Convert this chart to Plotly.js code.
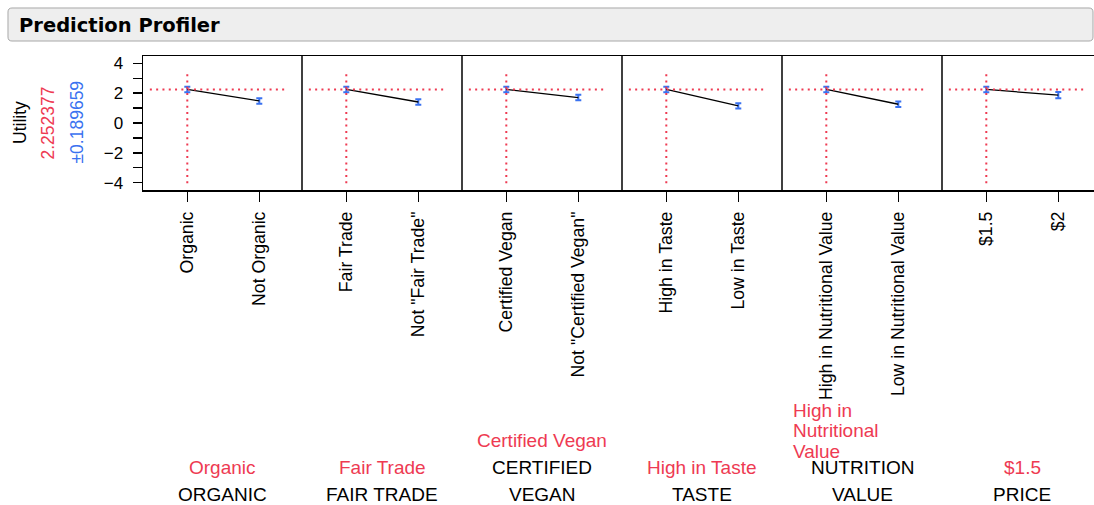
<!DOCTYPE html>
<html>
<head>
<meta charset="utf-8">
<script src="https://cdn.plot.ly/plotly-3.0.1.min.js"></script>
<style>html,body{margin:0;padding:0;background:#fff;}#chart{width:1094px;height:505px;}</style>
</head>
<body>
<div id="chart"></div>
<script>
// ---- data ----
const factorNames = ['ORGANIC', 'FAIR TRADE', 'CERTIFIED<br>VEGAN', 'TASTE', 'NUTRITION<br>VALUE', 'PRICE'];
const levelsA = ['Organic', 'Fair Trade', 'Certified Vegan', 'High in Taste', 'High in Nutritional Value', '$1.5'];
const levelsB = ['Not Organic', 'Not "Fair Trade"', 'Not "Certified Vegan"', 'Low in Taste', 'Low in Nutritional Value', '$2'];
const currentLabels = ['Organic', 'Fair Trade', 'Certified Vegan', 'High in Taste', 'High in<br>Nutritional<br>Value', '$1.5'];
const predictedUtility = 2.252377;
const predictedCI = 0.189659;
const levelBUtility = [1.48, 1.41, 1.71, 1.15, 1.26, 1.87];
const levelBCI = [0.18, 0.19, 0.19, 0.17, 0.18, 0.21];
const yTickVals = [-4, -2, 0, 2, 4];

// ---- style / layout helpers ----
const FONT = 'Liberation Sans, Arial, sans-serif';
const RED = '#ee3a52';
const BLUE = '#3a72f0';
const W = 1094, H = 505;
const ML = 143, MT = 56, MB = 315;
const PW = W - ML;
const PH = H - MT - MB;
const xp = px => (px - ML) / PW;
const yp = py => (MT + PH - py) / PH;
const panelEdges = [143, 302, 462, 622, 782, 942, 1102];
const pxPerUnit = 72;
const firstOffset = 44.3;

const traces = [];
const layout = {
  width: W, height: H,
  margin: {l: ML, r: 0, t: MT, b: MB, pad: 0},
  paper_bgcolor: '#ffffff', plot_bgcolor: '#ffffff',
  showlegend: false,
  font: {family: FONT, color: '#000', size: 17},
  yaxis: {
    range: [-4.5, 4.5], tickvals: yTickVals, ticks: 'outside', ticklen: 9, tickwidth: 1.5,
    tickcolor: '#000', showline: true, linecolor: '#000', linewidth: 1.5,
    showgrid: false, zeroline: false, anchor: 'x', fixedrange: true,
    tickfont: {family: FONT, size: 17, color: '#000'},
    minor: {dtick: 1, tick0: 0, ticks: 'outside', ticklen: 9, tickwidth: 1.5, tickcolor: '#000', showgrid: false},
    ticklabelstandoff: 6
  },
  shapes: [], annotations: []
};

const nP = factorNames.length;
for (let i = 0; i < nP; i++) {
  const axName = i === 0 ? 'x' : 'x' + (i + 1);
  const layKey = i === 0 ? 'xaxis' : 'xaxis' + (i + 1);
  const left = panelEdges[i];
  const right = Math.min(panelEdges[i + 1], W);
  const r0 = -firstOffset / pxPerUnit;
  const r1 = r0 + (right - left) / pxPerUnit;
  layout[layKey] = {
    domain: [xp(left), xp(right)], anchor: 'y', range: [r0, r1],
    tickvals: [0, 1], ticktext: [levelsA[i], levelsB[i]], tickangle: -90,
    ticks: 'outside', ticklen: 10, tickwidth: 1.5, tickcolor: '#000',
    showline: true, mirror: true, linecolor: '#000', linewidth: 1.5,
    showgrid: false, zeroline: false, fixedrange: true,
    tickfont: {family: FONT, size: 17.7, color: '#000'},
    ticklabelstandoff: 3
  };
  traces.push({
    type: 'scatter', mode: 'lines', xaxis: axName, yaxis: 'y',
    x: [0, 1], y: [predictedUtility, levelBUtility[i]],
    line: {color: '#000', width: 1.3},
    error_y: {type: 'data', array: [predictedCI, levelBCI[i]], visible: true, color: BLUE, thickness: 2, width: 3},
    hoverinfo: 'skip'
  });
  layout.shapes.push({type: 'line', xref: axName, yref: 'y', x0: -0.52, x1: 1.40, y0: predictedUtility, y1: predictedUtility,
    line: {color: RED, width: 2, dash: '2px,4.3px'}, layer: 'above'});
  layout.shapes.push({type: 'line', xref: axName, yref: 'y', x0: 0, x1: 0, y0: -4.05, y1: 3.55,
    line: {color: RED, width: 2, dash: '2px,4.3px'}, layer: 'above'});
  if (i > 0) {
    layout.shapes.push({type: 'line', xref: 'paper', yref: 'paper', x0: xp(left), x1: xp(left), y0: 0, y1: 1,
      line: {color: '#000', width: 1.5}, layer: 'above'});
  }
  const center = (panelEdges[i] + panelEdges[i + 1]) / 2;
  const nameLines = factorNames[i].split('<br>');
  let yLine = 494;
  const nameYs = [];
  for (let k = nameLines.length - 1; k >= 0; k--) {
    nameYs.unshift(yLine);
    yLine -= 27;
  }
  nameLines.forEach((t, k) => layout.annotations.push({
    xref: 'paper', yref: 'paper', x: xp(center), y: yp(nameYs[k]), xanchor: 'center', yanchor: 'middle',
    text: t, showarrow: false, font: {family: FONT, size: 19, color: '#000'}
  }));
  const curLines = currentLabels[i].split('<br>');
  if (curLines.length === 1) {
    layout.annotations.push({
      xref: 'paper', yref: 'paper', x: xp(center), y: yp(nameYs[0] - 27), xanchor: 'center', yanchor: 'middle',
      text: curLines[0], showarrow: false, font: {family: FONT, size: 19, color: RED}
    });
  } else {
    let yy = nameYs[0] - 16;
    for (let k = curLines.length - 1; k >= 0; k--) {
      layout.annotations.push({
        xref: 'paper', yref: 'paper', x: xp(left + 8.5), y: yp(yy), xanchor: 'left', yanchor: 'middle',
        text: curLines[k], showarrow: false, font: {family: FONT, size: 19, color: RED}
      });
      yy -= 20.4;
    }
  }
}

layout.annotations.push({xref: 'paper', yref: 'paper', x: xp(19.5), y: yp(122.5), xanchor: 'center', yanchor: 'middle',
  text: 'Utility', textangle: -90, showarrow: false, font: {family: FONT, size: 17.5, color: '#000'}});
layout.annotations.push({xref: 'paper', yref: 'paper', x: xp(47.5), y: yp(123), xanchor: 'center', yanchor: 'middle',
  text: predictedUtility.toFixed(6), textangle: -90, showarrow: false, font: {family: FONT, size: 17.5, color: RED}});
layout.annotations.push({xref: 'paper', yref: 'paper', x: xp(76), y: yp(122.5), xanchor: 'center', yanchor: 'middle',
  text: '\u00B1' + predictedCI.toFixed(6), textangle: -90, showarrow: false, font: {family: FONT, size: 17.5, color: BLUE}});

(function () {
  const x0 = 8, x1 = 1093, y0 = 8, y1 = 41, r = 4;
  const X = v => xp(v).toFixed(5), Y = v => yp(v).toFixed(5);
  const path = 'M' + X(x0 + r) + ',' + Y(y0) + ' L' + X(x1 - r) + ',' + Y(y0) +
    ' Q' + X(x1) + ',' + Y(y0) + ' ' + X(x1) + ',' + Y(y0 + r) +
    ' L' + X(x1) + ',' + Y(y1 - r) + ' Q' + X(x1) + ',' + Y(y1) + ' ' + X(x1 - r) + ',' + Y(y1) +
    ' L' + X(x0 + r) + ',' + Y(y1) + ' Q' + X(x0) + ',' + Y(y1) + ' ' + X(x0) + ',' + Y(y1 - r) +
    ' L' + X(x0) + ',' + Y(y0 + r) + ' Q' + X(x0) + ',' + Y(y0) + ' ' + X(x0 + r) + ',' + Y(y0) + ' Z';
  layout.shapes.push({type: 'path', xref: 'paper', yref: 'paper', path: path,
    fillcolor: '#eeeeee', line: {color: '#a8a8a8', width: 1}, layer: 'below'});
})();
layout.annotations.push({xref: 'paper', yref: 'paper', x: xp(17), y: yp(25), xanchor: 'left', yanchor: 'middle',
  text: '<b>Prediction Profiler</b>', showarrow: false, font: {family: 'DejaVu Sans, Verdana, sans-serif', size: 19.5, color: '#000'}});

Plotly.newPlot('chart', traces, layout, {displayModeBar: false, staticPlot: true});
</script>
</body>
</html>
